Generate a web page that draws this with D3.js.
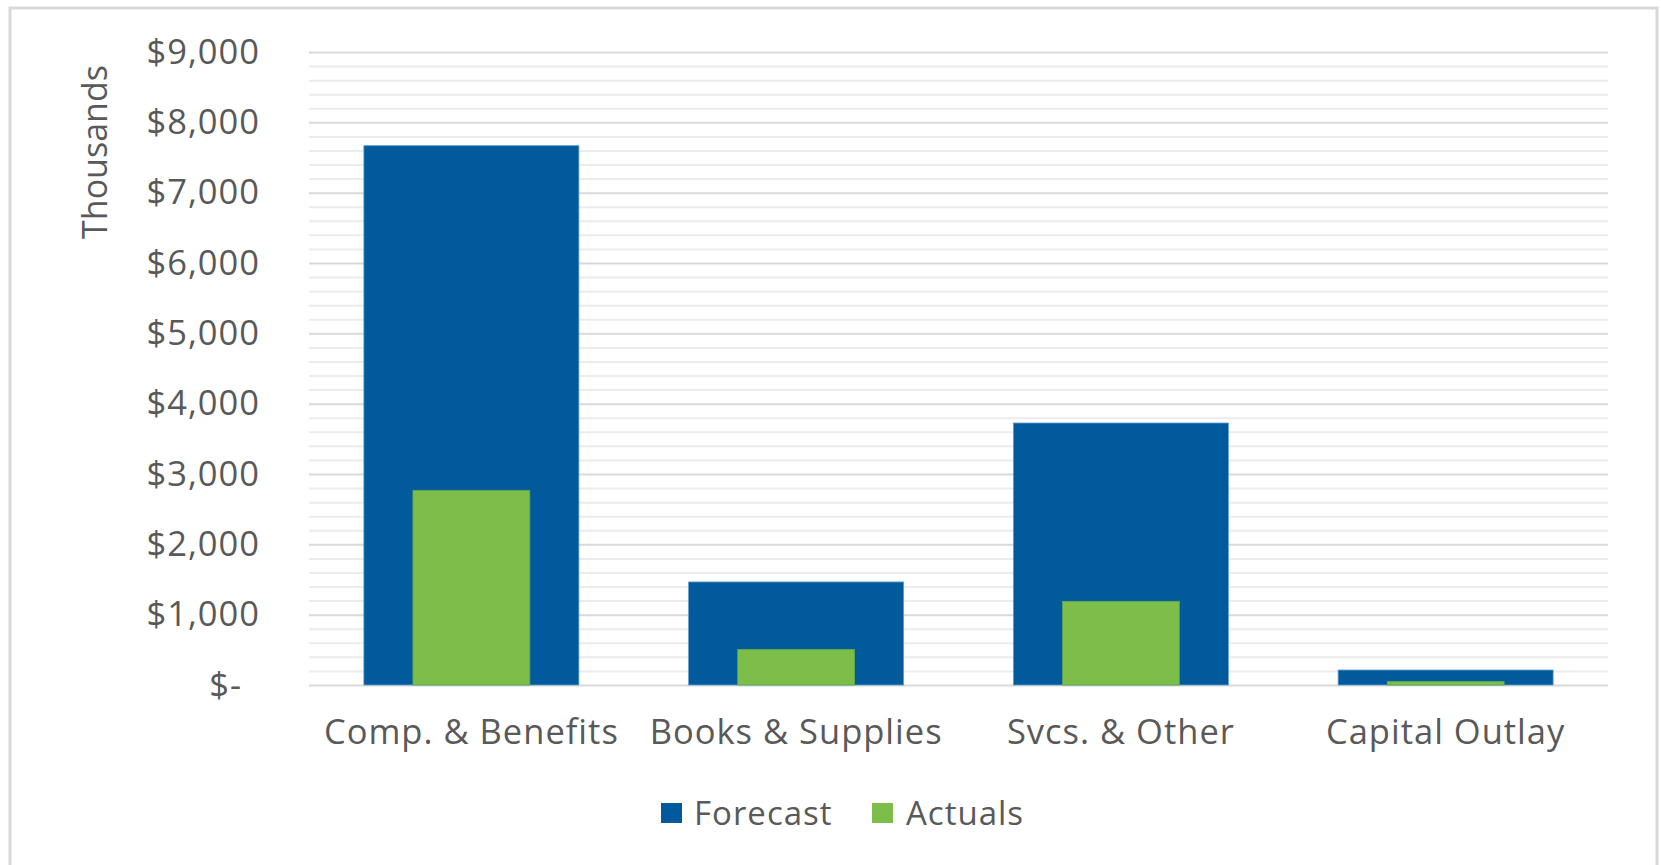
<!DOCTYPE html>
<html>
<head>
<meta charset="utf-8">
<script src="https://cdn.jsdelivr.net/npm/d3@7"></script>
<style>
  html, body { margin: 0; padding: 0; background: #fff; }
  svg text { font-family: "Open Sans", sans-serif; fill: #595959; }
</style>
</head>
<body>
<div id="chart"></div>
<script>
// data, in thousands of dollars
const categories = ["Comp. & Benefits", "Books & Supplies", "Svcs. & Other", "Capital Outlay"];
const forecast = [7668, 1465, 3725, 213];
const actuals = [2768, 507, 1190, 52];
const seriesNames = ["Forecast", "Actuals"];
const yTicks = [0, 1000, 2000, 3000, 4000, 5000, 6000, 7000, 8000, 9000];

const chartConfig = {
  width: 1661,
  height: 865,
  plot: { left: 309, right: 1608, top: 52, bottom: 685 },
  colours: { Forecast: "#015a9c", Actuals: "#7dbe4b" }
};

const svg = d3.select("#chart").append("svg")
  .attr("width", chartConfig.width)
  .attr("height", chartConfig.height);

// chart area border
svg.append("rect")
  .attr("x", 10).attr("y", 8)
  .attr("width", 1647).attr("height", 880)
  .attr("fill", "#fff")
  .attr("stroke", "#d9d9d9")
  .attr("stroke-width", 3);

const p = chartConfig.plot;

const y = d3.scaleLinear().domain([0, 9000]).range([p.bottom, p.top]);

const x = d3.scaleBand().domain(categories).range([p.left, p.right])
  .paddingInner(0.338).paddingOuter(0.169);
const xInner = d3.scaleBand().domain(categories).range([p.left, p.right])
  .paddingInner(0.64).paddingOuter(0.32);

// minor gridlines every 200
const minorTicks = d3.range(200, 9000, 200).filter(v => v % 1000 !== 0);
svg.append("g")
  .attr("class", "minorGrid")
  .attr("transform", `translate(${p.left},0)`)
  .call(d3.axisLeft(y).tickValues(minorTicks).tickSize(-(p.right - p.left)).tickFormat(""))
  .call(g => g.select(".domain").remove())
  .call(g => g.selectAll("line").attr("stroke", "#ececec").attr("stroke-width", 2));

// major gridlines
svg.append("g")
  .attr("class", "majorGrid")
  .attr("transform", `translate(${p.left},0)`)
  .call(d3.axisLeft(y).tickValues(yTicks).tickSize(-(p.right - p.left)).tickFormat(""))
  .call(g => g.select(".domain").remove())
  .call(g => g.selectAll("line").attr("stroke", "#d9d9d9").attr("stroke-width", 2));

// y axis labels
const yAxis = svg.append("g")
  .attr("transform", `translate(${p.left},0)`)
  .call(d3.axisLeft(y).tickValues(yTicks).tickSize(0).tickPadding(49)
    .tickFormat(d => d === 0 ? "$-" : d3.format("$,")(d)));
yAxis.select(".domain").remove();
yAxis.selectAll("text")
  .attr("font-size", "34.5px")
  .attr("letter-spacing", "1px")
  .style("font-family", "'Open Sans', sans-serif")
  .attr("fill", "#595959")
  .attr("dx", d => d === 0 ? -18 : 0);

// axis title
svg.append("text")
  .attr("transform", "translate(107,152) rotate(-90)")
  .attr("text-anchor", "middle")
  .attr("font-size", "34px")
  .text("Thousands");

// bars
svg.append("g").attr("class", "forecast")
  .selectAll("rect")
  .data(categories)
  .enter().append("rect")
  .attr("x", d => x(d))
  .attr("width", x.bandwidth())
  .attr("y", (d, i) => y(forecast[i]))
  .attr("height", (d, i) => y(0) - y(forecast[i]))
  .attr("fill", chartConfig.colours.Forecast)
  .attr("stroke", "#5b9bd0")
  .attr("stroke-width", 0.8);

svg.append("g").attr("class", "actuals")
  .selectAll("rect")
  .data(categories)
  .enter().append("rect")
  .attr("x", d => xInner(d))
  .attr("width", xInner.bandwidth())
  .attr("y", (d, i) => y(actuals[i]))
  .attr("height", (d, i) => y(0) - y(actuals[i]))
  .attr("fill", chartConfig.colours.Actuals)
  .attr("stroke", "#5fa84a")
  .attr("stroke-width", 0.8);

// x axis labels
const xAxis = svg.append("g")
  .attr("transform", `translate(0,${p.bottom})`)
  .call(d3.axisBottom(x).tickSize(0).tickPadding(35));
xAxis.select(".domain").remove();
xAxis.selectAll("text")
  .attr("font-size", "34.5px")
  .attr("letter-spacing", "1px")
  .style("font-family", "'Open Sans', sans-serif")
  .attr("fill", "#595959");

// legend
const legendPos = [{ sx: 661, tx: 694 }, { sx: 872, tx: 906 }];
const legend = svg.append("g").attr("class", "legend");
const legendItem = legend.selectAll(".legendItem")
  .data(seriesNames)
  .enter().append("g")
  .attr("class", "legendItem");
legendItem.append("rect")
  .attr("x", (d, i) => legendPos[i].sx)
  .attr("y", 803)
  .attr("width", 21).attr("height", 20)
  .attr("fill", d => chartConfig.colours[d]);
legendItem.append("text")
  .attr("x", (d, i) => legendPos[i].tx)
  .attr("y", 825)
  .attr("font-size", "33px")
  .attr("letter-spacing", "1px")
  .text(d => d);
</script>
</body>
</html>
